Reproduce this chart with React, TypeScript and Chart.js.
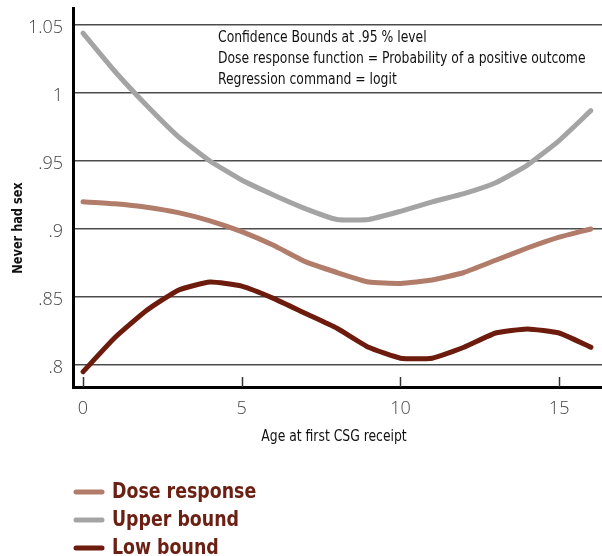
import React, { useEffect, useRef } from "react";
import { Chart, registerables } from "chart.js";
Chart.register(...registerables);

const ages = [0, 1, 2, 3, 4, 5, 6, 7, 8, 9, 10, 11, 12, 13, 14, 15, 16];
const upperBound = [1.044, 1.016, 0.991, 0.968, 0.95, 0.936, 0.925, 0.915, 0.907, 0.907, 0.913, 0.92, 0.926, 0.934, 0.947, 0.965, 0.987];
const doseResponse = [0.92, 0.9185, 0.916, 0.912, 0.906, 0.898, 0.888, 0.876, 0.868, 0.861, 0.86, 0.8625, 0.868, 0.877, 0.886, 0.894, 0.9];
const lowBound = [0.795, 0.82, 0.84, 0.855, 0.861, 0.858, 0.849, 0.838, 0.827, 0.813, 0.805, 0.805, 0.813, 0.8235, 0.8265, 0.8235, 0.813];

const xTickValues = [0, 5, 10, 15];
const yTickValues = [0.8, 0.85, 0.9, 0.95, 1, 1.05];
const yTickLabels = [".8", ".85", ".9", ".95", "1", "1.05"];
const notes = [
  "Confidence Bounds at .95 % level",
  "Dose response function = Probability of a positive outcome",
  "Regression command = logit",
];
const xTitle = "Age at first CSG receipt";
const yTitle = "Never had sex";
const legendNames = ["Dose response", "Upper bound", "Low bound"];

const COL_DOSE = "#b27c6a";
const COL_UPPER = "#a4a4a4";
const COL_LOW = "#6c1b0d";
const LEGEND_TEXT = "#6b2013";
const NARROW = "'DejaVu Sans Condensed', 'DejaVu Sans', sans-serif";
const TICK_FONT = "'Open Sans', 'DejaVu Sans', sans-serif";

const toPoints = (ys: number[]) => ages.map((a, i) => ({ x: a, y: ys[i] }));

function condensedText(
  ctx: CanvasRenderingContext2D,
  text: string,
  x: number,
  y: number,
  font: string,
  sx: number,
  align: CanvasTextAlign,
  color: string
) {
  ctx.save();
  ctx.translate(x, y);
  ctx.scale(sx, 1);
  ctx.font = font;
  ctx.fillStyle = color;
  ctx.textAlign = align;
  ctx.textBaseline = "middle";
  ctx.fillText(text, 0, 0);
  ctx.restore();
}

const decorPlugin = {
  id: "decor",
  afterDraw(chart: any) {
    const ctx = chart.ctx as CanvasRenderingContext2D;
    const xs = chart.scales.x;
    const area = chart.chartArea;
    ctx.save();
    // inward x tick marks
    ctx.strokeStyle = "#333";
    ctx.lineWidth = 1.5;
    xTickValues.forEach((v) => {
      const px = Math.round(xs.getPixelForValue(v)) + 0.5;
      ctx.beginPath();
      ctx.moveTo(px, area.bottom);
      ctx.lineTo(px, area.bottom - 10);
      ctx.stroke();
    });
    // notes
    notes.forEach((t, i) => condensedText(ctx, t, 218, 38 + i * 21, `16px ${NARROW}`, 0.86, "left", "#111"));
    // x title
    condensedText(ctx, xTitle, 334, 437, `16px ${NARROW}`, 0.86, "center", "#111");
    // y title
    ctx.save();
    ctx.translate(18, 228);
    ctx.rotate(-Math.PI / 2);
    condensedText(ctx, yTitle, 0, 0, `bold 14px ${NARROW}`, 0.9, "center", "#111");
    ctx.restore();
    // legend
    const cols = [COL_DOSE, COL_UPPER, COL_LOW];
    legendNames.forEach((name, i) => {
      const y = 492 + i * 28;
      ctx.strokeStyle = cols[i];
      ctx.lineWidth = 5;
      ctx.lineCap = "round";
      ctx.beginPath();
      ctx.moveTo(76, y);
      ctx.lineTo(102, y);
      ctx.stroke();
      condensedText(ctx, name, 112, y + 1, `bold 21px ${NARROW}`, 0.92, "left", LEGEND_TEXT);
    });
    ctx.restore();
  },
};

export default function App() {
  const ref = useRef<HTMLCanvasElement>(null);
  useEffect(() => {
    if (!ref.current) return;
    const ds = (label: string, data: number[], color: string) => ({
      label,
      data: toPoints(data),
      borderColor: color,
      backgroundColor: color,
      borderWidth: 5,
      pointRadius: 0,
      tension: 0.15,
      borderJoinStyle: "round" as const,
      borderCapStyle: "round" as const,
      fill: false,
    });
    const chart = new Chart(ref.current, {
      type: "line",
      data: {
        datasets: [
          ds(legendNames[1], upperBound, COL_UPPER),
          ds(legendNames[0], doseResponse, COL_DOSE),
          ds(legendNames[2], lowBound, COL_LOW),
        ],
      },
      options: {
        animation: false,
        responsive: false,
        layout: { padding: { left: 0, right: 0, top: 8, bottom: 0 } },
        plugins: { legend: { display: false }, tooltip: { enabled: false } },
        scales: {
          x: {
            type: "linear",
            min: -0.315,
            max: 16.35,
            afterBuildTicks: (s: any) => {
              s.ticks = xTickValues.map((v) => ({ value: v }));
            },
            afterFit: (s: any) => {
              s.height = 169;
              s.paddingLeft = 0;
              s.paddingRight = 0;
            },
            grid: { display: false },
            border: { display: true, color: "#000", width: 3 },
            ticks: {
              padding: 3,
              color: "#444",
              font: { family: TICK_FONT, size: 18, weight: 300 },
              callback: (v: any) => String(v),
            },
          },
          y: {
            type: "linear",
            min: 0.7838,
            max: 1.0625,
            afterBuildTicks: (s: any) => {
              s.ticks = yTickValues.map((v) => ({ value: v }));
            },
            afterFit: (s: any) => {
              s.width = 73;
              s.paddingTop = 0;
              s.paddingBottom = 0;
            },
            grid: { color: "rgba(0,0,0,0.7)", lineWidth: 1.5, drawTicks: false },
            border: { display: true, color: "#000", width: 3 },
            ticks: {
              padding: 10,
              labelOffset: 3,
              color: "#444",
              font: { family: TICK_FONT, size: 18, weight: 300 },
              callback: (v: any) => {
                const i = yTickValues.findIndex((t) => Math.abs(t - v) < 1e-6);
                return i >= 0 ? yTickLabels[i] : "";
              },
            },
          },
        },
      },
      plugins: [decorPlugin],
    });
    return () => chart.destroy();
  }, []);
  return (
    <div style={{ position: "absolute", left: 0, top: 0, width: 602, height: 556, background: "#fff" }}>
      <canvas ref={ref} width={602} height={556} style={{ width: 602, height: 556, display: "block" }} />
    </div>
  );
}
